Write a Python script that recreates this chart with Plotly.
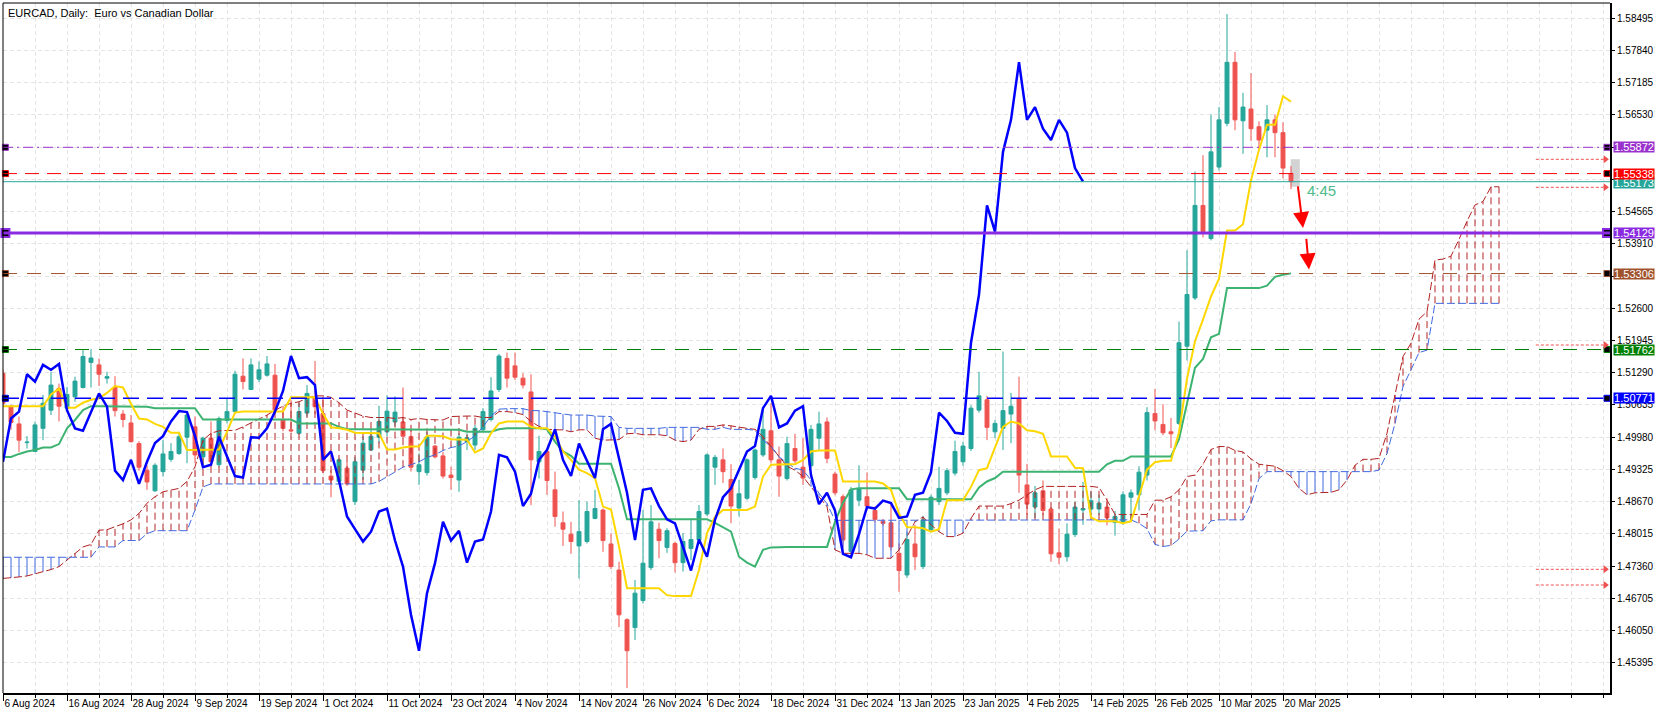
import plotly.graph_objects as go

# ---------------- data ----------------
OPEN = [1.5128, 1.5061, 1.5025, 1.4987, 1.4969, 1.5016, 1.5053, 1.5097, 1.5057, 1.5080,
        1.5099, 1.5150, 1.5145, 1.5118, 1.5099, 1.5045, 1.5027, 1.4985, 1.4931, 1.4889,
        1.4928, 1.4953, 1.4965, 1.4998, 1.5019, 1.4958, 1.4996, 1.4942, 1.5032, 1.5050,
        1.5122, 1.5095, 1.5116, 1.5124, 1.5124, 1.5034, 1.5013, 1.5006, 1.5047, 1.5080,
        1.5046, 1.4919, 1.4908, 1.4935, 1.4867, 1.4931, 1.4972, 1.4998, 1.5009, 1.5029,
        1.5029, 1.4999, 1.4928, 1.4926, 1.4980, 1.4960, 1.4921, 1.4911, 1.4989, 1.4982,
        1.5013, 1.5034, 1.5095, 1.5158, 1.5143, 1.5118, 1.5090, 1.4948, 1.4969, 1.4891,
        1.4824, 1.4801, 1.4777, 1.4786, 1.4833, 1.4850, 1.4781, 1.4728, 1.4627, 1.4611,
        1.4666, 1.4733, 1.4811, 1.4774, 1.4782, 1.4743, 1.4772, 1.4789, 1.4842, 1.4937,
        1.4952, 1.4912, 1.4854, 1.4874, 1.4916, 1.4962, 1.5011, 1.4952, 1.4914, 1.4975,
        1.4937, 1.4940, 1.4996, 1.5029, 1.4923, 1.4877, 1.4766, 1.4870, 1.4877, 1.4849,
        1.4827, 1.4824, 1.4762, 1.4718, 1.4781, 1.4735, 1.4810, 1.4867, 1.4885, 1.4925,
        1.4948, 1.4975, 1.5053, 1.5074, 1.5009, 1.5016, 1.5045, 1.5077, 1.4901, 1.4856,
        1.4889, 1.4852, 1.4763, 1.4755, 1.4800, 1.4850, 1.4852, 1.4852, 1.4856, 1.4825,
        1.4825, 1.4876, 1.4881, 1.4921, 1.5046, 1.5024, 1.5009, 1.5026, 1.5183, 1.5281,
        1.5469, 1.5402, 1.5547, 1.5636, 1.5760, 1.5641, 1.5665, 1.5629, 1.5622, 1.5643,
        1.5617, 1.5534]
HIGH = [1.5135, 1.5064, 1.5040, 1.5000, 1.5030, 1.5084, 1.5131, 1.5107, 1.5100, 1.5121,
        1.5176, 1.5177, 1.5158, 1.5131, 1.5122, 1.5053, 1.5043, 1.4990, 1.4941, 1.4945,
        1.4992, 1.4986, 1.5009, 1.5047, 1.5040, 1.4999, 1.5030, 1.5040, 1.5077, 1.5133,
        1.5158, 1.5158, 1.5152, 1.5163, 1.5147, 1.5060, 1.5074, 1.5067, 1.5104, 1.5153,
        1.5080, 1.4931, 1.4955, 1.4948, 1.4958, 1.5000, 1.5013, 1.5062, 1.5083, 1.5081,
        1.5099, 1.5013, 1.4965, 1.5009, 1.4982, 1.4968, 1.4938, 1.5006, 1.5006, 1.5023,
        1.5057, 1.5120, 1.5167, 1.5170, 1.5170, 1.5128, 1.5126, 1.5001, 1.4972, 1.4928,
        1.4847, 1.4826, 1.4870, 1.4867, 1.4891, 1.4853, 1.4803, 1.4745, 1.4630, 1.4708,
        1.4850, 1.4860, 1.4824, 1.4813, 1.4786, 1.4803, 1.4833, 1.4860, 1.4965, 1.4962,
        1.4975, 1.4943, 1.4911, 1.4955, 1.4975, 1.5055, 1.5067, 1.4979, 1.4999, 1.5005,
        1.4996, 1.5023, 1.5050, 1.5038, 1.4928, 1.4882, 1.4897, 1.4941, 1.4926, 1.4857,
        1.4832, 1.4864, 1.4782, 1.4806, 1.4820, 1.4838, 1.4881, 1.4938, 1.4935, 1.4991,
        1.4989, 1.5063, 1.5131, 1.5082, 1.5033, 1.5172, 1.5088, 1.5121, 1.4944, 1.4899,
        1.4910, 1.4856, 1.4812, 1.4823, 1.4867, 1.4907, 1.4888, 1.4881, 1.4874, 1.4848,
        1.4888, 1.4892, 1.4939, 1.5059, 1.5096, 1.5065, 1.5037, 1.5233, 1.5378, 1.5538,
        1.5571, 1.5654, 1.5669, 1.5858, 1.5781, 1.5698, 1.5738, 1.5640, 1.5673, 1.5654,
        1.5638, 1.5549]
LOW = [1.5062, 1.5013, 1.4968, 1.4975, 1.4968, 1.4992, 1.5043, 1.5030, 1.5050, 1.5070,
       1.5097, 1.5099, 1.5102, 1.5107, 1.5040, 1.5018, 1.4987, 1.4930, 1.4891, 1.4887,
       1.4918, 1.4948, 1.4962, 1.4945, 1.4945, 1.4938, 1.4941, 1.4938, 1.5026, 1.5046,
       1.5095, 1.5094, 1.5110, 1.5121, 1.5046, 1.5010, 1.5008, 1.5003, 1.5040, 1.5045,
       1.4925, 1.4876, 1.4904, 1.4899, 1.4860, 1.4911, 1.4970, 1.4986, 1.5000, 1.5020,
       1.4995, 1.4928, 1.4901, 1.4920, 1.4955, 1.4914, 1.4891, 1.4887, 1.4972, 1.4972,
       1.5010, 1.5030, 1.5090, 1.5099, 1.5114, 1.5097, 1.4860, 1.4914, 1.4881, 1.4816,
       1.4777, 1.4761, 1.4711, 1.4782, 1.4831, 1.4765, 1.4730, 1.4612, 1.4488, 1.4586,
       1.4660, 1.4728, 1.4752, 1.4763, 1.4723, 1.4725, 1.4748, 1.4785, 1.4838, 1.4901,
       1.4905, 1.4823, 1.4837, 1.4870, 1.4912, 1.4958, 1.4945, 1.4877, 1.4910, 1.4945,
       1.4901, 1.4935, 1.4972, 1.4945, 1.4880, 1.4775, 1.4760, 1.4858, 1.4850, 1.4825,
       1.4818, 1.4768, 1.4684, 1.4712, 1.4728, 1.4730, 1.4805, 1.4860, 1.4880, 1.4920,
       1.4940, 1.4970, 1.5048, 1.4992, 1.4996, 1.4972, 1.4986, 1.4885, 1.4841, 1.4834,
       1.4840, 1.4745, 1.4740, 1.4745, 1.4795, 1.4820, 1.4840, 1.4840, 1.4819, 1.4798,
       1.4820, 1.4830, 1.4849, 1.4910, 1.5012, 1.5002, 1.4976, 1.5023, 1.5154, 1.5277,
       1.5404, 1.5398, 1.5540, 1.5630, 1.5622, 1.5574, 1.5600, 1.5583, 1.5567, 1.5567,
       1.5524, 1.5502]
CLOSE = [1.5067, 1.5028, 1.4992, 1.4988, 1.5023, 1.5067, 1.5104, 1.5061, 1.5085, 1.5112,
         1.5162, 1.5159, 1.5126, 1.5121, 1.5052, 1.5034, 1.4989, 1.4937, 1.4907, 1.4941,
         1.4964, 1.4969, 1.4999, 1.5043, 1.4962, 1.4996, 1.4948, 1.5036, 1.5050, 1.5126,
         1.5111, 1.5145, 1.5135, 1.5147, 1.5053, 1.5016, 1.5011, 1.5050, 1.5087, 1.5060,
         1.4930, 1.4911, 1.4952, 1.4903, 1.4948, 1.4986, 1.5000, 1.5030, 1.5051, 1.5049,
         1.5000, 1.4937, 1.4942, 1.4999, 1.4958, 1.4919, 1.4916, 1.4998, 1.4997, 1.5016,
         1.5050, 1.5092, 1.5163, 1.5118, 1.5120, 1.5104, 1.4952, 1.4969, 1.4910, 1.4837,
         1.4811, 1.4786, 1.4806, 1.4847, 1.4853, 1.4788, 1.4735, 1.4637, 1.4564, 1.4681,
         1.4742, 1.4826, 1.4788, 1.4808, 1.4743, 1.4786, 1.4790, 1.4847, 1.4962, 1.4957,
         1.4928, 1.4858, 1.4883, 1.4952, 1.4972, 1.5014, 1.4952, 1.4919, 1.4985, 1.4950,
         1.4915, 1.5014, 1.5025, 1.4955, 1.4885, 1.4789, 1.4891, 1.4894, 1.4858, 1.4831,
         1.4823, 1.4775, 1.4727, 1.4790, 1.4755, 1.4830, 1.4876, 1.4894, 1.4930, 1.4969,
         1.4980, 1.5057, 1.5082, 1.5018, 1.5026, 1.5052, 1.5061, 1.4921, 1.4862, 1.4885,
         1.4849, 1.4761, 1.4754, 1.4801, 1.4856, 1.4853, 1.4869, 1.4864, 1.4834, 1.4837,
         1.4881, 1.4885, 1.4927, 1.5048, 1.5031, 1.5007, 1.5005, 1.5190, 1.5288, 1.5469,
         1.5416, 1.5578, 1.5643, 1.5760, 1.5643, 1.5669, 1.5625, 1.5602, 1.5643, 1.5617,
         1.5545, 1.55173]

TENKAN = [1.5061, 1.5061, 1.5061, 1.5061, 1.5061, 1.5061, 1.5085, 1.5097, 1.5058, 1.5058,
          1.5068, 1.5074, 1.5077, 1.5088, 1.5102, 1.5099, 1.5066, 1.5036, 1.5034, 1.5025,
          1.5019, 1.5007, 1.5007, 1.4972, 1.4972, 1.4972, 1.4972, 1.4973, 1.5009, 1.5048,
          1.5050, 1.5050, 1.5050, 1.5050, 1.5050, 1.5050, 1.5079, 1.5079, 1.5079, 1.5079,
          1.5046, 1.5018, 1.5016, 1.5013, 1.5007, 1.5007, 1.5007, 1.5006, 1.4973, 1.4973,
          1.4977, 1.4979, 1.4979, 1.5001, 1.5001, 1.5000, 1.4994, 1.4994, 1.4993, 1.4967,
          1.4975, 1.5006, 1.5026, 1.5030, 1.5030, 1.5030, 1.5019, 1.5016, 1.5016, 1.4999,
          1.4969, 1.4952, 1.4932, 1.4925, 1.4915, 1.4857, 1.4851, 1.4776, 1.4691, 1.4691,
          1.4691, 1.4691, 1.4691, 1.4677, 1.4675, 1.4675, 1.4675, 1.4728, 1.4803, 1.4836,
          1.4850, 1.4850, 1.4850, 1.4850, 1.4857, 1.4918, 1.4942, 1.4943, 1.4943, 1.4943,
          1.4952, 1.4969, 1.4971, 1.4971, 1.4971, 1.4908, 1.4908, 1.4908, 1.4908, 1.4908,
          1.4904, 1.4891, 1.4843, 1.4815, 1.4815, 1.4813, 1.4806, 1.4811, 1.4870, 1.4870,
          1.4870, 1.4897, 1.4931, 1.4935, 1.4975, 1.5019, 1.5030, 1.5026, 1.5012, 1.5010,
          1.5005, 1.4959, 1.4959, 1.4959, 1.4936, 1.4935, 1.4835, 1.4827, 1.4827, 1.4827,
          1.4823, 1.4827, 1.4878, 1.4932, 1.4947, 1.4950, 1.4950, 1.5008, 1.5117, 1.5193,
          1.5237, 1.5284, 1.5320, 1.5418, 1.5418, 1.5431, 1.5520, 1.5582, 1.5633, 1.5633,
          1.5691, 1.5680]
KIJUN = [1.4958, 1.4958, 1.4964, 1.4969, 1.4972, 1.4977, 1.4977, 1.4984, 1.5016, 1.5033,
         1.5053, 1.5061, 1.5061, 1.5061, 1.5061, 1.5061, 1.5061, 1.5061, 1.5060, 1.5057,
         1.5057, 1.5057, 1.5057, 1.5057, 1.5057, 1.5034, 1.5034, 1.5034, 1.5034, 1.5034,
         1.5034, 1.5034, 1.5034, 1.5034, 1.5034, 1.5034, 1.5034, 1.5026, 1.5026, 1.5026,
         1.5026, 1.5026, 1.5019, 1.5014, 1.5014, 1.5014, 1.5014, 1.5014, 1.5014, 1.5014,
         1.5014, 1.5013, 1.5013, 1.5013, 1.5013, 1.5013, 1.5013, 1.5013, 1.5009, 1.5009,
         1.5009, 1.5009, 1.5014, 1.5016, 1.5016, 1.5016, 1.5016, 1.5016, 1.5014, 1.4989,
         1.4969, 1.4960, 1.4944, 1.4944, 1.4944, 1.4944, 1.4944, 1.4894, 1.4831, 1.4831,
         1.4831, 1.4831, 1.4831, 1.4831, 1.4831, 1.4831, 1.4831, 1.4831, 1.4831, 1.4824,
         1.4815, 1.4806, 1.4755, 1.4743, 1.4735, 1.4769, 1.4774, 1.4775, 1.4775, 1.4775,
         1.4775, 1.4775, 1.4775, 1.4775, 1.4826, 1.4865, 1.4892, 1.4894, 1.4894, 1.4894,
         1.4894, 1.4894, 1.4894, 1.4872, 1.4872, 1.4872, 1.4872, 1.4872, 1.4872, 1.4872,
         1.4872, 1.4872, 1.4896, 1.4908, 1.4915, 1.4928, 1.4928, 1.4928, 1.4928, 1.4928,
         1.4928, 1.4928, 1.4928, 1.4928, 1.4928, 1.4928, 1.4928, 1.4928, 1.4943, 1.4950,
         1.4950, 1.4959, 1.4959, 1.4959, 1.4959, 1.4959, 1.4959, 1.4994, 1.5070, 1.5139,
         1.5157, 1.5201, 1.5208, 1.5301, 1.5301, 1.5301, 1.5301, 1.5301, 1.5306, 1.5324,
         1.5328, 1.5331]
SENKOU_A = [1.4711, 1.4712, 1.4714, 1.4716, 1.4720, 1.4725, 1.4729, 1.4735, 1.4748, 1.4762,
            1.4775, 1.4780, 1.4809, 1.4810, 1.4816, 1.4822, 1.4830, 1.4843, 1.4864, 1.4877,
            1.4887, 1.4891, 1.4894, 1.4908, 1.4938, 1.4992, 1.5006, 1.5011, 1.5012, 1.5012,
            1.5019, 1.5027, 1.5036, 1.5043, 1.5053, 1.5061, 1.5067, 1.5070, 1.5077, 1.5082,
            1.5082, 1.5079, 1.5068, 1.5053, 1.5047, 1.5041, 1.5038, 1.5038, 1.5038, 1.5036,
            1.5038, 1.5034, 1.5036, 1.5034, 1.5034, 1.5033, 1.5040, 1.5041, 1.5041, 1.5041,
            1.5038, 1.5038, 1.5050, 1.5050, 1.5048, 1.5044, 1.5030, 1.5020, 1.5014, 1.5013,
            1.5013, 1.5009, 1.5013, 1.5013, 1.4996, 1.4992, 1.4992, 1.4993, 1.5005, 1.5006,
            1.5003, 1.5003, 1.5003, 1.5001, 1.4992, 1.4989, 1.4992, 1.5014, 1.5020, 1.5020,
            1.5023, 1.5021, 1.5018, 1.5016, 1.5014, 1.4999, 1.4979, 1.4958, 1.4939, 1.4931,
            1.4918, 1.4897, 1.4877, 1.4857, 1.4769, 1.4762, 1.4762, 1.4762, 1.4759, 1.4752,
            1.4752, 1.4752, 1.4769, 1.4796, 1.4826, 1.4836, 1.4820, 1.4806, 1.4796, 1.4796,
            1.4803, 1.4833, 1.4858, 1.4858, 1.4857, 1.4858, 1.4863, 1.4870, 1.4881, 1.4891,
            1.4898, 1.4898, 1.4898, 1.4898, 1.4898, 1.4898, 1.4898, 1.4896, 1.4870, 1.4841,
            1.4841, 1.4841, 1.4841, 1.4841, 1.4870, 1.4870, 1.4877, 1.4891, 1.4918, 1.4921,
            1.4943, 1.4973, 1.4979, 1.4979, 1.4971, 1.4968, 1.4954, 1.4943, 1.4941, 1.4939,
            1.4930, 1.4918, 1.4894, 1.4881, 1.4885, 1.4886, 1.4886, 1.4891, 1.4911, 1.4941,
            1.4953, 1.4953, 1.4955, 1.5006, 1.5084, 1.5162, 1.5189, 1.5238, 1.5253, 1.5358,
            1.5360, 1.5366, 1.5400, 1.5437, 1.5470, 1.5477, 1.5507, 1.5507]
SENKOU_B = [1.4754, 1.4754, 1.4754, 1.4754, 1.4754, 1.4754, 1.4754, 1.4754, 1.4754, 1.4754,
            1.4754, 1.4754, 1.4775, 1.4775, 1.4775, 1.4788, 1.4788, 1.4788, 1.4802, 1.4808,
            1.4808, 1.4808, 1.4808, 1.4808, 1.4850, 1.4897, 1.4903, 1.4903, 1.4903, 1.4903,
            1.4903, 1.4903, 1.4903, 1.4903, 1.4903, 1.4903, 1.4903, 1.4903, 1.4903, 1.4903,
            1.4903, 1.4903, 1.4903, 1.4903, 1.4903, 1.4903, 1.4903, 1.4908, 1.4918, 1.4928,
            1.4937, 1.4942, 1.4948, 1.4957, 1.4962, 1.4971, 1.4977, 1.4980, 1.4989, 1.5001,
            1.5019, 1.5041, 1.5055, 1.5056, 1.5056, 1.5056, 1.5052, 1.5052, 1.5050, 1.5048,
            1.5045, 1.5043, 1.5043, 1.5043, 1.5041, 1.5041, 1.5040, 1.5018, 1.5016, 1.5016,
            1.5016, 1.5016, 1.5016, 1.5018, 1.5018, 1.5018, 1.5018, 1.5018, 1.5014, 1.5014,
            1.5018, 1.5014, 1.5014, 1.5014, 1.5012, 1.4992, 1.4979, 1.4958, 1.4946, 1.4935,
            1.4931, 1.4911, 1.4884, 1.4863, 1.4829, 1.4829, 1.4829, 1.4829, 1.4829, 1.4829,
            1.4829, 1.4829, 1.4829, 1.4829, 1.4829, 1.4829, 1.4829, 1.4829, 1.4829, 1.4829,
            1.4829, 1.4829, 1.4829, 1.4829, 1.4829, 1.4830, 1.4830, 1.4830, 1.4830, 1.4830,
            1.4830, 1.4830, 1.4830, 1.4830, 1.4830, 1.4830, 1.4830, 1.4830, 1.4830, 1.4830,
            1.4830, 1.4830, 1.4823, 1.4812, 1.4780, 1.4776, 1.4778, 1.4791, 1.4807, 1.4808,
            1.4808, 1.4828, 1.4830, 1.4830, 1.4830, 1.4830, 1.4863, 1.4914, 1.4928, 1.4928,
            1.4928, 1.4928, 1.4928, 1.4928, 1.4928, 1.4928, 1.4928, 1.4928, 1.4928, 1.4928,
            1.4928, 1.4928, 1.4931, 1.4965, 1.5026, 1.5101, 1.5135, 1.5170, 1.5175, 1.5270,
            1.5270, 1.5270, 1.5270, 1.5270, 1.5270, 1.5270, 1.5270, 1.5270]
CHIKOU_SHIFT = 26

TICK_LABELS = ["6 Aug 2024", "16 Aug 2024", "28 Aug 2024", "9 Sep 2024", "19 Sep 2024",
               "1 Oct 2024", "11 Oct 2024", "23 Oct 2024", "4 Nov 2024", "14 Nov 2024",
               "26 Nov 2024", "6 Dec 2024", "18 Dec 2024", "31 Dec 2024", "13 Jan 2025",
               "23 Jan 2025", "4 Feb 2025", "14 Feb 2025", "26 Feb 2025", "10 Mar 2025",
               "20 Mar 2025"]
TICK_BARS = [0, 8, 16, 24, 32, 40, 48, 56, 64, 72, 80, 88, 96, 104, 112, 120, 128, 136,
             144, 152, 160]
Y_TICKS = [1.58495, 1.57840, 1.57185, 1.56530, 1.55875, 1.55220, 1.54565, 1.53910,
           1.53255, 1.52600, 1.51945, 1.51290, 1.50635, 1.49980, 1.49325, 1.48670,
           1.48015, 1.47360, 1.46705, 1.46050, 1.45395]
# price labels that sit fully under a level box in the reference
Y_HIDDEN = [1.55875, 1.55220, 1.53255]

LEVELS = [1.55872, 1.55338, 1.55173, 1.54129, 1.53306, 1.51762, 1.50771]
LEVEL_COLORS = ["#9932CC", "#FF0000", "#26A69A", "#8A2BE2", "#A0522D", "#008000", "#0000FF"]
LEVEL_DASH = ["10px,4px,2px,4px", "14px,8px", "solid", "solid", "14px,10px", "14px,10px", "16px,8px"]
LEVEL_WIDTH = [1, 1, 1, 3, 1, 1, 1.5]
ANCHORED = [True, True, False, True, True, True, True]
BOX_SHIFT = [0, 0, -1, 0, 0, 0, 0]
BOX_ORDER = [2, 0, 1, 3, 4, 5, 6]   # bid box drawn first so the red box lies over it

ALERT_LEVELS = [1.55628, 1.55059, 1.51854, 1.47295, 1.46976]

TIMER_TEXT = "4:45"
TITLE = "EURCAD, Daily:  Euro vs Canadian Dollar"

# ---------------- figure ----------------
FONT = "Liberation Sans, Arial, sans-serif"
n = len(CLOSE)
bars = list(range(n))
X_MAX = 200.875

fig = go.Figure()

# cloud hatch
up_x, up_y, dn_x, dn_y = [], [], [], []
for i, (a, b) in enumerate(zip(SENKOU_A, SENKOU_B)):
    if a >= b:
        up_x += [i, i, None]; up_y += [b, a, None]
    else:
        dn_x += [i, i, None]; dn_y += [a, b, None]
fig.add_trace(go.Scatter(x=up_x, y=up_y, mode="lines", line=dict(color="#B22222", width=1, dash="7px,4px"),
                         hoverinfo="skip", showlegend=False))
fig.add_trace(go.Scatter(x=dn_x, y=dn_y, mode="lines", line=dict(color="#4169E1", width=1),
                         hoverinfo="skip", showlegend=False))
cloud_x = list(range(len(SENKOU_A)))
fig.add_trace(go.Scatter(x=cloud_x, y=SENKOU_A, mode="lines", line=dict(color="#B22222", width=1, dash="8px,3px"),
                         hoverinfo="skip", showlegend=False))
fig.add_trace(go.Scatter(x=cloud_x, y=SENKOU_B, mode="lines", line=dict(color="#4169E1", width=1, dash="8px,3px"),
                         hoverinfo="skip", showlegend=False))

# candles
fig.add_trace(go.Candlestick(x=bars, open=OPEN, high=HIGH, low=LOW, close=CLOSE,
                             increasing=dict(line=dict(color="#26A69A", width=1), fillcolor="#26A69A"),
                             decreasing=dict(line=dict(color="#EF5350", width=1), fillcolor="#EF5350"),
                             whiskerwidth=0, showlegend=False, hoverinfo="skip"))

# ichimoku lines
fig.add_trace(go.Scatter(x=bars, y=KIJUN, mode="lines", line=dict(color="#3CB371", width=2),
                         hoverinfo="skip", showlegend=False))
fig.add_trace(go.Scatter(x=bars, y=TENKAN, mode="lines", line=dict(color="#FFD700", width=2),
                         hoverinfo="skip", showlegend=False))
fig.add_trace(go.Scatter(x=list(range(n - CHIKOU_SHIFT)), y=CLOSE[CHIKOU_SHIFT:], mode="lines",
                         line=dict(color="#0000FF", width=2.5), hoverinfo="skip", showlegend=False))

shapes = []
annotations = []

# grey box next to the live bar
shapes.append(dict(type="rect", xref="x", yref="y", x0=160.96, x1=162.1, y0=1.5507, y1=1.5563,
                   fillcolor="#D3D3D3", line=dict(width=0), layer="below"))

# horizontal levels
for lv, col, dsh, w, anc in zip(LEVELS, LEVEL_COLORS, LEVEL_DASH, LEVEL_WIDTH, ANCHORED):
    shapes.append(dict(type="line", xref="paper", yref="y", x0=0, x1=1, y0=lv, y1=lv,
                       line=dict(color=col, width=w, dash=dsh), layer="above"))
    if anc:
        big = w >= 3
        fig.add_trace(go.Scatter(x=[0.3, 200.5], y=[lv, lv], mode="markers",
                                 marker=dict(symbol="square", size=8 if big else 6, color="black",
                                             line=dict(color=col, width=2 if big else 1)),
                                 cliponaxis=False, hoverinfo="skip", showlegend=False))
for k in BOX_ORDER:
    annotations.append(dict(x=1, xref="paper", y=LEVELS[k], yref="y", xanchor="left", yanchor="middle",
                            xshift=3, yshift=BOX_SHIFT[k], text="%.5f" % LEVELS[k], showarrow=False,
                            font=dict(family=FONT, size=11, color="white"),
                            bgcolor=LEVEL_COLORS[k], borderpad=0, height=10, width=40))

# alert arrows on the right
for lv in ALERT_LEVELS:
    shapes.append(dict(type="line", xref="x", yref="y", x0=191.6, x1=200.3, y0=lv, y1=lv,
                       line=dict(color="#F05050", width=1, dash="3px,2px"), layer="above"))
fig.add_trace(go.Scatter(x=[200.3] * len(ALERT_LEVELS), y=ALERT_LEVELS, mode="markers",
                         marker=dict(symbol="triangle-right", size=7, color="#F05050"),
                         cliponaxis=False, hoverinfo="skip", showlegend=False))

# borders left / top
shapes.append(dict(type="line", xref="paper", yref="paper", x0=0, x1=0, y0=0, y1=1,
                   line=dict(color="black", width=1)))
shapes.append(dict(type="line", xref="paper", yref="paper", x0=0, x1=1, y0=1, y1=1,
                   line=dict(color="black", width=1)))

# hand drawn red arrows
for (tx, ty, hx, hy) in [(161.84, 1.5511, 162.5, 1.5423), (162.9, 1.5404, 163.25, 1.5339)]:
    annotations.append(dict(x=hx, y=hy, xref="x", yref="y", ax=tx, ay=ty, axref="x", ayref="y",
                            showarrow=True, arrowhead=2, arrowsize=1.6, arrowwidth=2,
                            arrowcolor="#FF0000", text=""))

annotations.append(dict(x=164.75, y=1.5499, xref="x", yref="y", text=TIMER_TEXT, showarrow=False,
                        font=dict(family=FONT, size=15, color="#4DBB8A")))
annotations.append(dict(x=0, y=1, xref="paper", yref="paper", xanchor="left", yanchor="top",
                        xshift=3, yshift=-2, text=TITLE, showarrow=False,
                        font=dict(family=FONT, size=11, color="black")))

GRID = "#E4E4E4"
y_text = ["" if v in Y_HIDDEN else "%.5f" % v for v in Y_TICKS]
fig.update_layout(
    width=1663, height=715,
    margin=dict(l=3, r=53, t=3, b=22, pad=0, autoexpand=False),
    paper_bgcolor="white", plot_bgcolor="white",
    showlegend=False, shapes=shapes, annotations=annotations,
    xaxis=dict(range=[0, X_MAX], tickmode="array", tickvals=TICK_BARS, ticktext=TICK_LABELS,
               tickangle=0, automargin=False,
               ticks="outside", ticklen=6, tickcolor="black", ticklabelposition="outside right",
               tickfont=dict(family=FONT, size=10, color="black"),
               showgrid=True, gridcolor=GRID, griddash="4px,3px", gridwidth=1,
               minor=dict(tickmode="linear", tick0=0, dtick=4, ticks="outside", ticklen=3,
                          tickcolor="black", showgrid=True, gridcolor=GRID, griddash="4px,3px"),
               showline=True, linecolor="black", linewidth=2, zeroline=False,
               rangeslider=dict(visible=False), fixedrange=True),
    yaxis=dict(range=[1.44781, 1.58805], side="right", tickmode="array", tickvals=Y_TICKS,
               ticktext=y_text, ticks="outside", ticklen=3, tickcolor="black", automargin=False,
               tickfont=dict(family=FONT, size=10, color="black"),
               showgrid=True, gridcolor=GRID, griddash="4px,3px", gridwidth=1,
               showline=True, linecolor="black", linewidth=2, zeroline=False, fixedrange=True),
)

fig.write_html("out.html", config={"displayModeBar": False},
               post_script="document.body.style.margin='0';document.body.style.overflow='hidden';")
